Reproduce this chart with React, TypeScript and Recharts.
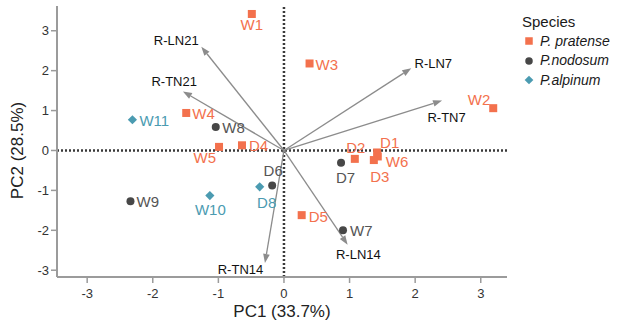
import React from 'react';
import { ScatterChart, Scatter, XAxis, YAxis, ReferenceLine, Legend } from 'recharts';

const FONT = '"Liberation Sans", Arial, sans-serif';

// sample scores on the first two components
const pratense = [
  { name: 'W1', pc1: -0.49, pc2: 3.42 },
  { name: 'W2', pc1: 3.19, pc2: 1.06 },
  { name: 'W3', pc1: 0.39, pc2: 2.18 },
  { name: 'W4', pc1: -1.49, pc2: 0.94 },
  { name: 'W5', pc1: -0.99, pc2: 0.09 },
  { name: 'W6', pc1: 1.43, pc2: -0.15 },
  { name: 'D1', pc1: 1.42, pc2: -0.05 },
  { name: 'D2', pc1: 1.08, pc2: -0.21 },
  { name: 'D3', pc1: 1.37, pc2: -0.24 },
  { name: 'D4', pc1: -0.64, pc2: 0.13 },
  { name: 'D5', pc1: 0.27, pc2: -1.62 },
];

const nodosum = [
  { name: 'W7', pc1: 0.9, pc2: -2.0 },
  { name: 'W8', pc1: -1.04, pc2: 0.59 },
  { name: 'W9', pc1: -2.34, pc2: -1.27 },
  { name: 'D6', pc1: -0.18, pc2: -0.88 },
  { name: 'D7', pc1: 0.87, pc2: -0.31 },
];

const alpinum = [
  { name: 'W10', pc1: -1.13, pc2: -1.13 },
  { name: 'W11', pc1: -2.31, pc2: 0.77 },
  { name: 'D8', pc1: -0.37, pc2: -0.91 },
];

// trait loadings (arrows from the origin)
const loadings = [
  { name: 'R-LN21', pc1: -1.26, pc2: 2.6 },
  { name: 'R-TN21', pc1: -1.54, pc2: 1.48 },
  { name: 'R-LN7', pc1: 1.94, pc2: 2.06 },
  { name: 'R-TN7', pc1: 2.41, pc2: 1.25 },
  { name: 'R-TN14', pc1: -0.29, pc2: -2.82 },
  { name: 'R-LN14', pc1: 0.97, pc2: -2.36 },
];

const xTicks = [-3, -2, -1, 0, 1, 2, 3];
const yTicks = [-3, -2, -1, 0, 1, 2, 3];

type Anchor = 'start' | 'middle' | 'end';

// where each text sits relative to its mark: [dx, dy(baseline), anchor]
const pointLabelPos: Record<string, [number, number, Anchor]> = {
  W1: [0, 16, 'middle'],
  W2: [-3, -3, 'end'],
  W3: [6, 6.5, 'start'],
  W4: [6, 5.7, 'start'],
  W5: [-3, 16, 'end'],
  W6: [8, 11, 'start'],
  D1: [3, -4, 'start'],
  D2: [1, -5.7, 'middle'],
  D3: [6, 21.5, 'middle'],
  D4: [7, 6, 'start'],
  D5: [7, 6.4, 'start'],
  W7: [7, 6, 'start'],
  W8: [6.5, 6, 'start'],
  W9: [6, 6, 'start'],
  D6: [1, -9.7, 'middle'],
  D7: [4.5, 19.7, 'middle'],
  W10: [0.5, 19, 'middle'],
  W11: [7, 6.7, 'start'],
  D8: [7, 21, 'middle'],
};

const arrowLabelPos: Record<string, [number, number, Anchor]> = {
  'R-LN21': [-2.7, -1.7, 'end'],
  'R-TN21': [14, -5.7, 'end'],
  'R-LN7': [3.3, 0, 'start'],
  'R-TN7': [-14.6, 21, 'start'],
  'R-TN14': [-1.7, 10.7, 'end'],
  'R-LN14': [10.8, 14.3, 'middle'],
};

type Kind = 'square' | 'circle' | 'diamond';

const species: { name: string; data: typeof pratense; kind: Kind; fill: string; text: string }[] = [
  { name: 'P. pratense', data: pratense, kind: 'square', fill: '#F3714D', text: '#F3714D' },
  { name: 'P.nodosum', data: nodosum, kind: 'circle', fill: '#474747', text: '#555555' },
  { name: 'P.alpinum', data: alpinum, kind: 'diamond', fill: '#4B9BB1', text: '#4B9BB1' },
];

function Marker({ kind, x, y, fill, s = 8 }: { kind: Kind; x: number; y: number; fill: string; s?: number }) {
  const h = s / 2;
  if (kind === 'square') return <rect x={x - h} y={y - h} width={s} height={s} fill={fill} />;
  if (kind === 'circle') return <circle cx={x} cy={y} r={h} fill={fill} />;
  const d = h + 0.6;
  return <polygon points={`${x},${y - d} ${x + d},${y} ${x},${y + d} ${x - d},${y}`} fill={fill} />;
}

const makeShape = (kind: Kind, fill: string, text: string) => (props: any) => {
  const { cx, cy, payload } = props;
  const [dx, dy, anchor] = pointLabelPos[payload.name] || [6, 5, 'start'];
  return (
    <g>
      <Marker kind={kind} x={cx} y={cy} fill={fill} />
      <text x={cx + dx} y={cy + dy} textAnchor={anchor} fontSize={15} fontFamily={FONT} fill={text}>
        {payload.name}
      </text>
    </g>
  );
};

function LoadingArrow(props: any) {
  const { x1, y1, x2, y2, label } = props;
  const ang = Math.atan2(y2 - y1, x2 - x1);
  const len = 9;
  const half = 3.3;
  const bx = x2 - len * Math.cos(ang);
  const by = y2 - len * Math.sin(ang);
  const px = -Math.sin(ang) * half;
  const py = Math.cos(ang) * half;
  const [dx, dy, anchor] = arrowLabelPos[label] || [0, 0, 'start'];
  return (
    <g>
      <line x1={x1} y1={y1} x2={bx} y2={by} stroke="#8C8C8C" strokeWidth={1.3} />
      <polygon points={`${x2},${y2} ${bx + px},${by + py} ${bx - px},${by - py}`} fill="#8C8C8C" />
      <text x={x2 + dx} y={y2 + dy} textAnchor={anchor} fontSize={13} fontFamily={FONT} fill="#111">
        {label}
      </text>
    </g>
  );
}

// legend keeps the species order rather than recharts' alphabetical sort
const renderLegend = ({ payload }: any) => {
  const shown = new Set((payload || []).map((e: any) => e.value));
  return (
    <div style={{ fontFamily: FONT, color: '#1a1a1a' }}>
      <div style={{ height: 19.5, lineHeight: '19.5px', fontSize: 15 }}>Species</div>
      {species
        .filter((sp) => shown.has(sp.name))
        .map((sp) => (
          <div key={sp.name} style={{ display: 'flex', alignItems: 'center', height: 19.5 }}>
            <svg width={14} height={12} style={{ marginLeft: 1, marginRight: 3 }}>
              <Marker kind={sp.kind} x={6} y={6} fill={sp.fill} s={7.5} />
            </svg>
            <span style={{ fontSize: 14, fontStyle: 'italic', lineHeight: '19.5px' }}>{sp.name}</span>
          </div>
        ))}
    </div>
  );
};

const axisStroke = '#9B9B9B';

export default function App() {
  return (
    <div style={{ position: 'absolute', left: 0, top: 0, width: 617, height: 325, background: '#fff' }}>
      <ScatterChart width={617} height={325} margin={{ top: 6, right: 110, bottom: 0, left: 0 }}>
        <XAxis
          type="number"
          dataKey="pc1"
          domain={[-3.46, 3.4]}
          allowDataOverflow
          ticks={xTicks}
          height={48}
          stroke={axisStroke}
          axisLine={{ stroke: axisStroke, strokeWidth: 2 }}
          tickLine={{ stroke: axisStroke, strokeWidth: 1.5 }}
          tickSize={6}
          tickMargin={6}
          tick={{ fill: '#333', fontSize: 13, fontFamily: FONT }}
          label={{ value: 'PC1 (33.7%)', position: 'insideBottom', offset: 8, fontSize: 17, fill: '#222', fontFamily: FONT }}
        />
        <YAxis
          type="number"
          dataKey="pc2"
          domain={[-3.17, 3.62]}
          allowDataOverflow
          ticks={yTicks}
          width={57}
          stroke={axisStroke}
          axisLine={{ stroke: axisStroke, strokeWidth: 2 }}
          tickLine={{ stroke: axisStroke, strokeWidth: 1.5 }}
          tickSize={6}
          tickMargin={2}
          tick={{ fill: '#333', fontSize: 13, fontFamily: FONT }}
          label={{
            content: ({ viewBox }: any) => {
              const cx = viewBox.x + 17.5;
              const cy = viewBox.y + viewBox.height / 2 + 9;
              return (
                <text
                  x={cx}
                  y={cy}
                  transform={`rotate(-90, ${cx}, ${cy})`}
                  textAnchor="middle"
                  dominantBaseline="central"
                  fontSize={17}
                  fontFamily={FONT}
                  fill="#222"
                >
                  PC2 (28.5%)
                </text>
              );
            },
          }}
        />
        <ReferenceLine y={0} stroke="#3A3A3A" strokeWidth={2.5} strokeDasharray="2 2" />
        <ReferenceLine x={0} stroke="#3A3A3A" strokeWidth={2.5} strokeDasharray="2 2" />
        {loadings.map((l) => (
          <ReferenceLine
            key={l.name}
            segment={[{ x: 0, y: 0 }, { x: l.pc1, y: l.pc2 }]}
            shape={(p: any) => <LoadingArrow {...p} label={l.name} />}
          />
        ))}
        {species.map((sp) => (
          <Scatter
            key={sp.name}
            name={sp.name}
            data={sp.data}
            fill={sp.fill}
            shape={makeShape(sp.kind, sp.fill, sp.text)}
            isAnimationActive={false}
          />
        ))}
        <Legend
          layout="vertical"
          align="center"
          verticalAlign="middle"
          wrapperStyle={{ left: 522, top: 12, width: 95 }}
          content={renderLegend}
        />
      </ScatterChart>
    </div>
  );
}
